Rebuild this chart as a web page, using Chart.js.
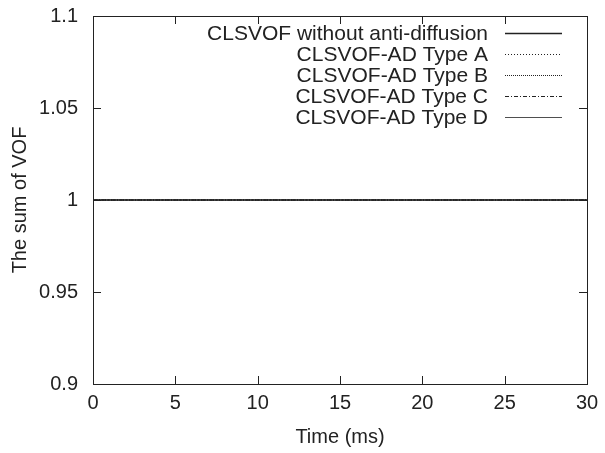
<!DOCTYPE html>
<html>
<head>
<meta charset="utf-8">
<script src="https://cdn.jsdelivr.net/npm/chart.js@4/dist/chart.umd.min.js"></script>
<style>
  html, body { margin: 0; padding: 0; background: #fff; }
  #wrap { width: 605px; height: 453px; }
</style>
</head>
<body>
<div id="wrap"><canvas id="chart"></canvas></div>
<script>
// Time (ms) samples and the sum of VOF for each run
const timeMs = [0, 5, 10, 15, 20, 25, 30];
const noAntiDiffusion = [1, 1, 1, 1, 1, 1, 1];
const typeA = [1, 1, 1, 1, 1, 1, 1];
const typeB = [1, 1, 1, 1, 1, 1, 1];
const typeC = [1, 1, 1, 1, 1, 1, 1];
const typeD = [1, 1, 1, 1, 1, 1, 1];

const seriesNames = [
    'CLSVOF without anti-diffusion',
    'CLSVOF-AD Type A',
    'CLSVOF-AD Type B',
    'CLSVOF-AD Type C',
    'CLSVOF-AD Type D'
];
const xTicks = [0, 5, 10, 15, 20, 25, 30];
const yTicks = [0.9, 0.95, 1, 1.05, 1.1];

const ink = '#222';
const fontFamily = '"Liberation Sans", Arial, sans-serif';

const styles = [
    { width: 1.6, dash: [] },
    { width: 1, dash: [1, 2] },
    { width: 1, dash: [1, 1] },
    { width: 1, dash: [4, 2, 1, 2] },
    { width: 0.8, dash: [] }
];

const values = [noAntiDiffusion, typeA, typeB, typeC, typeD];

const datasets = values.map((vals, i) => ({
    label: seriesNames[i],
    data: vals.map((v, j) => ({ x: timeMs[j], y: v })),
    borderColor: ink,
    borderWidth: styles[i].width,
    borderDash: styles[i].dash,
    pointRadius: 0,
    fill: false
}));

// gnuplot-style frame: inward ticks on all four sides, key at top right
const framePlugin = {
    id: 'frame',
    afterDraw(chart) {
        const { ctx, chartArea: a, scales } = chart;
        ctx.save();
        ctx.strokeStyle = ink;
        ctx.lineWidth = 1;
        ctx.strokeRect(a.left + 0.5, a.top + 0.5, a.right - a.left, a.bottom - a.top);
        const len = 8;
        ctx.beginPath();
        xTicks.forEach(t => {
            const px = Math.round(scales.x.getPixelForValue(t)) + 0.5;
            ctx.moveTo(px, a.bottom); ctx.lineTo(px, a.bottom - len);
            ctx.moveTo(px, a.top); ctx.lineTo(px, a.top + len);
        });
        yTicks.forEach(t => {
            const py = Math.round(scales.y.getPixelForValue(t)) + 0.5;
            ctx.moveTo(a.left, py); ctx.lineTo(a.left + len, py);
            ctx.moveTo(a.right, py); ctx.lineTo(a.right - len, py);
        });
        ctx.stroke();

        // key
        ctx.font = '21px ' + fontFamily;
        ctx.fillStyle = ink;
        ctx.textAlign = 'right';
        ctx.textBaseline = 'middle';
        const textRight = 488;
        const lineLeft = 505, lineRight = 562;
        chart.data.datasets.forEach((ds, i) => {
            const y = 33 + i * 21;
            ctx.fillText(ds.label, textRight, y + 1);
            ctx.beginPath();
            ctx.lineWidth = ds.borderWidth;
            ctx.setLineDash(ds.borderDash);
            ctx.moveTo(lineLeft, Math.round(y) + 0.5);
            ctx.lineTo(lineRight, Math.round(y) + 0.5);
            ctx.stroke();
        });
        ctx.restore();
    }
};

new Chart(document.getElementById('chart'), {
    type: 'line',
    data: { datasets },
    options: {
        responsive: true,
        maintainAspectRatio: false,
        animation: false,
        layout: { padding: { top: 16, right: 18, left: 0, bottom: 0 } },
        plugins: {
            legend: { display: false },
            tooltip: { enabled: false }
        },
        scales: {
            x: {
                type: 'linear',
                min: 0,
                max: 30,
                afterBuildTicks: s => { s.ticks = xTicks.map(v => ({ value: v })); },
                afterFit: s => { s.height = 69; s.paddingLeft = 0; s.paddingRight = 0; },
                grid: { display: false, drawTicks: false },
                border: { display: false },
                ticks: { color: ink, padding: 7, font: { family: fontFamily, size: 20 } },
                title: {
                    display: true,
                    text: 'Time (ms)',
                    color: ink,
                    padding: { top: 6 },
                    font: { family: fontFamily, size: 20 }
                }
            },
            y: {
                min: 0.9,
                max: 1.1,
                afterBuildTicks: s => { s.ticks = yTicks.map(v => ({ value: v })); },
                afterFit: s => { s.width = 93; s.paddingTop = 0; s.paddingBottom = 0; },
                grid: { display: false, drawTicks: false },
                border: { display: false },
                ticks: {
                    color: ink,
                    padding: 15,
                    font: { family: fontFamily, size: 20 },
                    callback: v => String(Math.round(v * 100) / 100)
                },
                title: {
                    display: true,
                    text: 'The sum of VOF',
                    color: ink,
                    padding: { top: 8, bottom: 4 },
                    font: { family: fontFamily, size: 20 }
                }
            }
        }
    },
    plugins: [framePlugin]
});
</script>
</body>
</html>
